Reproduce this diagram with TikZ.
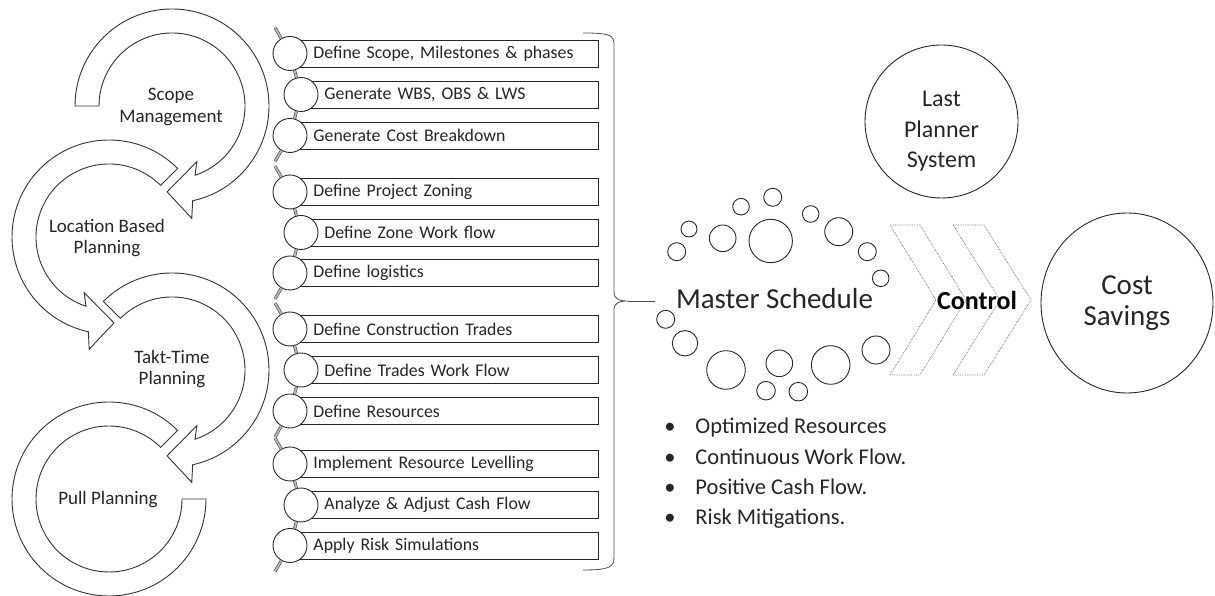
\documentclass[tikz,border=0pt]{standalone}
\usepackage{fontspec}
\setmainfont{Carlito}
\usetikzlibrary{calc,shapes.geometric}
\begin{document}
\begin{tikzpicture}[x=1pt,y=1pt,line width=0.9pt,
  band/.style={draw=black!80, fill=white, line width=0.9pt, line join=miter},
  lbl/.style={font=\fontsize{19}{21.5}\selectfont, align=center, text=black!85},
  bead/.style={circle, draw=black!85, fill=white, minimum size=34pt, inner sep=0pt, line width=0.9pt},
  task/.style={rectangle, draw=black!85, fill=white, anchor=west, minimum height=27pt, inner xsep=0pt, inner ysep=0pt, text width=#1, align=left, font=\fontsize{17.8}{20}\selectfont, text=black!85},
  link/.style={draw=black!75, double=gray!55, double distance=1.8pt, line width=0.6pt},
  dot/.style={draw=black!85, line width=0.9pt},
  chev/.style={draw=gray!80!black, densely dotted, line width=0.7pt},
  brace/.style={draw=black!70, line width=0.8pt},
  bullet/.style={anchor=base west, font=\fontsize{22.5}{27}\selectfont, inner sep=0pt, text=black!85},
  bigcirc/.style={draw=black!85, line width=0.9pt, inner sep=0pt, align=center, text=black!85},
  bigtext/.style={align=center, inner sep=0pt, text=black!85}
]
\useasboundingbox (0,0) rectangle (1215,596);

% ---- circular arrows ----
\coordinate (A1) at (172,490);
\coordinate (A2) at (109,359);
\coordinate (A3) at (172,226);
\coordinate (A4) at (109,97);

\draw[band] ($(A4)+(45:97)$) arc[start angle=45,end angle=360,radius=97]
  -- ($(A4)+(0:73)$) arc[start angle=360,end angle=45,radius=73] -- cycle;
\draw[band] ($(A3)+(135:97)$) arc[start angle=135,end angle=-77.7,radius=97]
  -- ($(A3)+(-80:114)$) -- ($(A3)+(-93.3:86)$) -- ($(A3)+(-66:61)$)
  -- ($(A3)+(-71.6:73)$) arc[start angle=-71.6,end angle=135,radius=73] -- cycle;
\draw[band] ($(A2)+(45:97)$) arc[start angle=45,end angle=257.7,radius=97]
  -- ($(A2)+(260:114)$) -- ($(A2)+(273.3:86)$) -- ($(A2)+(246:61)$)
  -- ($(A2)+(251.6:73)$) arc[start angle=251.6,end angle=45,radius=73] -- cycle;
\draw[band] ($(A1)+(180:97)$) arc[start angle=180,end angle=-77.7,radius=97]
  -- ($(A1)+(-80:114)$) -- ($(A1)+(-93.3:86)$) -- ($(A1)+(-66:61)$)
  -- ($(A1)+(-71.6:73)$) arc[start angle=-71.6,end angle=180,radius=73] -- cycle;

\node[lbl] (l1) at (171,489) {Scope\\Management};
\node[lbl] (l2) at (107,358) {Location Based\\Planning};
\node[lbl] (l3) at (172,227) {Takt-Time\\Planning};
\node[lbl] (l4) at (108,96) {Pull Planning};

% ---- task list ----
\foreach \n/\cx/\cy/\t in {
  1/290/542.5/{Define Scope, Milestones \& phases},
  2/301/501.5/{Generate WBS, OBS \& LWS},
  3/290/460.5/{Generate Cost Breakdown},
  4/290/404/{Define Project Zoning},
  5/301/363.5/{Define Zone Work flow},
  6/290/323/{Define logistics},
  7/290/267/{Define Construction Trades},
  8/301/226/{Define Trades Work Flow},
  9/290/185/{Define Resources},
  10/290/132/{Implement Resource Levelling},
  11/301/91/{Analyze \& Adjust Cash Flow},
  12/290/50.5/{Apply Risk Simulations}}{
  \pgfmathsetmacro\w{598-\cx}
  \node[task={\w pt}] (b\n) at (\cx,\cy) {\hspace*{23pt}\t};
  \node[bead] (c\n) at (\cx,\cy) {};
}

\foreach \a/\b/\c in {1/2/3,4/5/6,7/8/9,10/11/12}{
  \coordinate (in\a) at ($(c\a)+(120:30)$);
  \coordinate (out\c) at ($(c\c)+(-120:30)$);
  \draw[link] (c\a) -- (in\a);
  \draw[link] (c\a) -- (c\b);
  \draw[link] (c\b) -- (c\c);
  \draw[link] (c\c) -- (out\c);
}

% ---- brace ----
\draw[brace] (583,563) .. controls (609,563) and (614,561) .. (614,552) -- (614,304)
  .. controls (614,297) and (619,295) .. (628,295)
  .. controls (619,295) and (614,293) .. (614,286) -- (614,38)
  .. controls (614,29) and (609,26) .. (583,26);
\coordinate (bt) at (628,295);

% ---- master schedule ----
\node[font=\fontsize{29}{33}\selectfont, inner xsep=21pt, inner ysep=0pt, text=black!85] (ms) at (774.5,297) {Master Schedule};
\draw[brace] (bt) -- (bt -| ms.west);

\foreach \x/\y/\r in {772.7/398.7/9, 741/389.3/8.3, 689/367/8, 722.7/357.7/13.3,
  770.7/355/21.7, 810.7/382/8.3, 838.7/364.3/14, 676.7/344.3/9, 867.3/344.3/9,
  880.7/317.7/8.3, 665.7/276.7/9, 685/252.7/12.7, 726/226/19.3, 779.3/232.7/13.3,
  830.7/231/19.3, 876/246/14, 766/205.3/9.3, 798.3/204.3/9.3}{
  \draw[dot] (\x,\y) circle[radius=\r];
}

% ---- chevrons ----
\draw[chev] (890,371) -- (920,371) -- (966,296) -- (920,221) -- (890,221) -- (936,296) -- cycle;
\draw[chev] (953,371) -- (984,371) -- (1031,296) -- (984,221) -- (953,221) -- (1000,296) -- cycle;
\node[font=\bfseries\fontsize{26}{30}\selectfont, text=black] (ctl) at (977,296) {Control};

% ---- circles ----
\node[bigcirc, circle, minimum size=153pt] (lps) at (941.5,474.5) {};
\node[bigtext, font=\fontsize{24}{30.5}\selectfont] (lpst) at ([yshift=-10pt]lps.center) {Last\\Planner\\System};
\node[bigcirc, ellipse, minimum width=172pt, minimum height=180pt, font=\fontsize{29}{31}\selectfont] (cs) at (1127,293) {Cost\\Savings};

% ---- bullets ----
\node[bullet] (p1) at (664,162) {\makebox[31pt][l]{•}Optimized Resources};
\node[bullet] (p2) at (664,131.5) {\makebox[31pt][l]{•}Continuous Work Flow.};
\node[bullet] (p3) at (664,101) {\makebox[31pt][l]{•}Positive Cash Flow.};
\node[bullet] (p4) at (664,71.5) {\makebox[31pt][l]{•}Risk Mitigations.};
\end{tikzpicture}
\end{document}
